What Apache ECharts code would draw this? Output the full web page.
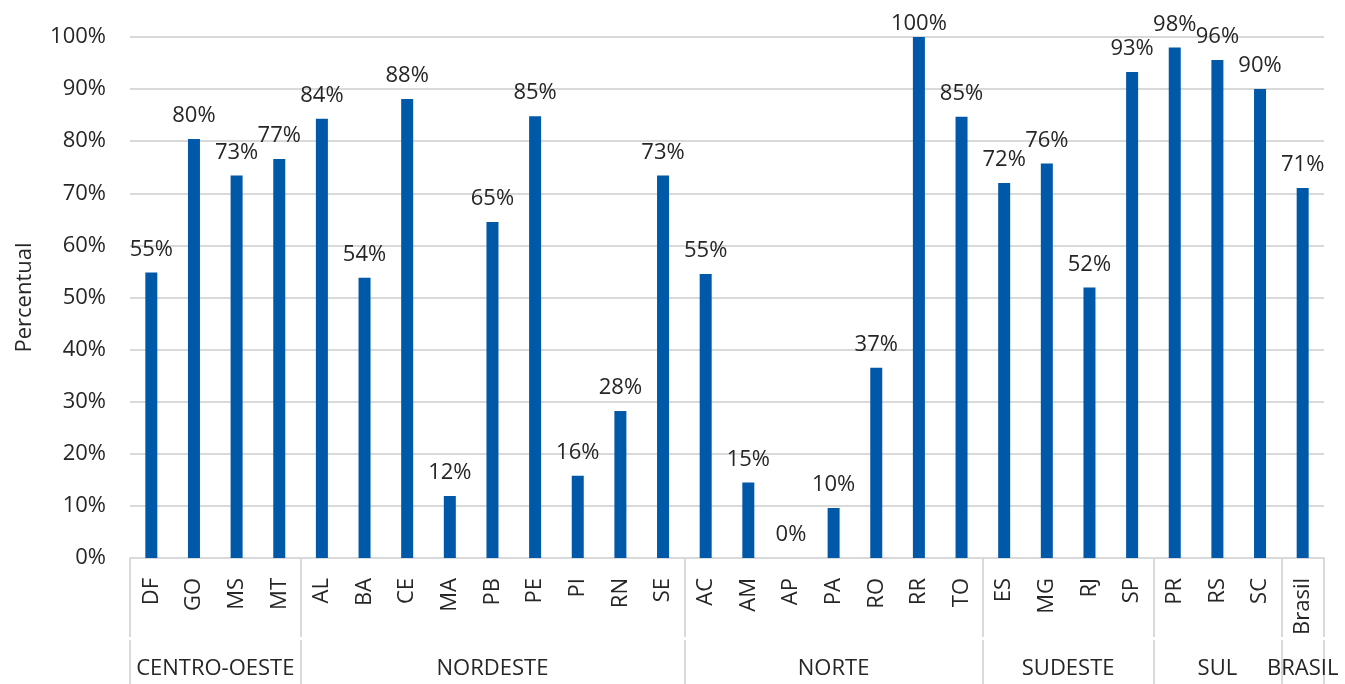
<!DOCTYPE html>
<html>
<head>
<meta charset="utf-8">
<title>Percentual por UF</title>
<script src="https://cdn.jsdelivr.net/npm/echarts@6/dist/echarts.min.js"></script>
<style>
  html, body { margin: 0; padding: 0; background: #fff; }
  #chart { width: 1345px; height: 684px; }
</style>
</head>
<body>
<div id="chart"></div>
<script>
// Unidades da federação, na ordem do eixo
const states = ['DF', 'GO', 'MS', 'MT',
  'AL', 'BA', 'CE', 'MA', 'PB', 'PE', 'PI', 'RN', 'SE',
  'AC', 'AM', 'AP', 'PA', 'RO', 'RR', 'TO',
  'ES', 'MG', 'RJ', 'SP',
  'PR', 'RS', 'SC',
  'Brasil'];

// Percentual de cada UF
const values = [54.8, 80.4, 73.4, 76.6,
  84.3, 53.8, 88.1, 11.9, 64.5, 84.8, 15.8, 28.2, 73.4,
  54.5, 14.5, 0, 9.6, 36.5, 100, 84.7,
  72.0, 75.7, 51.9, 93.3,
  98.0, 95.6, 90.0,
  71.0];

// Regiões e quantas UFs cada uma agrupa
const regions = ['CENTRO-OESTE', 'NORDESTE', 'NORTE', 'SUDESTE', 'SUL', 'BRASIL'];
const regionSizes = [4, 9, 7, 4, 3, 1];

// Marcas do eixo de valores
const yTicks = [0, 10, 20, 30, 40, 50, 60, 70, 80, 90, 100];

// Limites e centros de cada grupo no eixo auxiliar (0..n)
const bounds = [0];
regionSizes.forEach(s => bounds.push(bounds[bounds.length - 1] + s));
const centers = regionSizes.map((s, i) => bounds[i] + s / 2);
const centerName = {};
centers.forEach((c, i) => { centerName[c] = regions[i]; });

const FONT = '"Open Sans", "Noto Sans", sans-serif';
const FS = 22;
const TEXT = '#262626';
const GRID = '#d9d9d9';
const BAR = '#0058a8';
const LABEL_TOP_MIN = 13; // rótulos não sobem acima desta linha

const chart = echarts.init(document.getElementById('chart'), null, { renderer: 'canvas' });

chart.setOption({
  animation: false,
  textStyle: { fontFamily: FONT },
  grid: { left: 130, right: 21, top: 37, bottom: 126, containLabel: false },
  yAxis: {
    type: 'value',
    min: yTicks[0],
    max: yTicks[yTicks.length - 1],
    interval: 10,
    name: 'Percentual',
    nameLocation: 'middle',
    nameGap: 94,
    nameRotate: 90,
    nameTextStyle: { fontSize: FS, color: TEXT, fontFamily: FONT },
    axisLine: { show: false },
    axisTick: { show: false },
    axisLabel: { formatter: '{value}%', fontSize: FS, color: TEXT, margin: 24, fontFamily: FONT },
    splitLine: { lineStyle: { color: GRID, width: 2 } }
  },
  xAxis: [
    {
      type: 'category',
      data: states,
      position: 'bottom',
      axisLine: { show: true, lineStyle: { color: GRID, width: 2 } },
      axisTick: { show: false },
      axisLabel: {
        interval: 0, rotate: 90, fontSize: FS, color: TEXT, margin: 20, fontFamily: FONT
      }
    },
    {
      // separadores entre regiões (parte de cima)
      type: 'value',
      min: 0, max: states.length,
      position: 'bottom',
      offset: 0,
      axisLine: { show: false },
      axisLabel: { show: false },
      splitLine: { show: false },
      axisTick: {
        show: true, inside: false, length: 79,
        customValues: bounds,
        lineStyle: { color: GRID, width: 2 }
      }
    },
    {
      // nomes das regiões e separadores (parte de baixo)
      type: 'value',
      min: 0, max: states.length,
      position: 'bottom',
      offset: 82,
      axisLine: { show: false },
      splitLine: { show: false },
      axisTick: {
        show: true, inside: false, length: 50,
        customValues: bounds,
        lineStyle: { color: GRID, width: 2 }
      },
      axisLabel: {
        show: true,
        customValues: centers,
        formatter: v => centerName[v] || '',
        fontSize: FS, color: TEXT, margin: 18, fontFamily: FONT,
        showMinLabel: true, showMaxLabel: true
      }
    }
  ],
  series: [{
    type: 'bar',
    xAxisIndex: 0,
    yAxisIndex: 0,
    data: values,
    barWidth: 12,
    itemStyle: { color: BAR },
    label: {
      show: true,
      position: 'top',
      distance: 12,
      formatter: p => Math.round(p.value) + '%',
      fontSize: FS,
      color: TEXT,
      fontFamily: FONT
    },
    // mantém os rótulos dentro da área do gráfico
    labelLayout: params => (params.labelRect && params.labelRect.y < LABEL_TOP_MIN
      ? { dy: LABEL_TOP_MIN - params.labelRect.y }
      : {})
  }]
});
</script>
</body>
</html>
